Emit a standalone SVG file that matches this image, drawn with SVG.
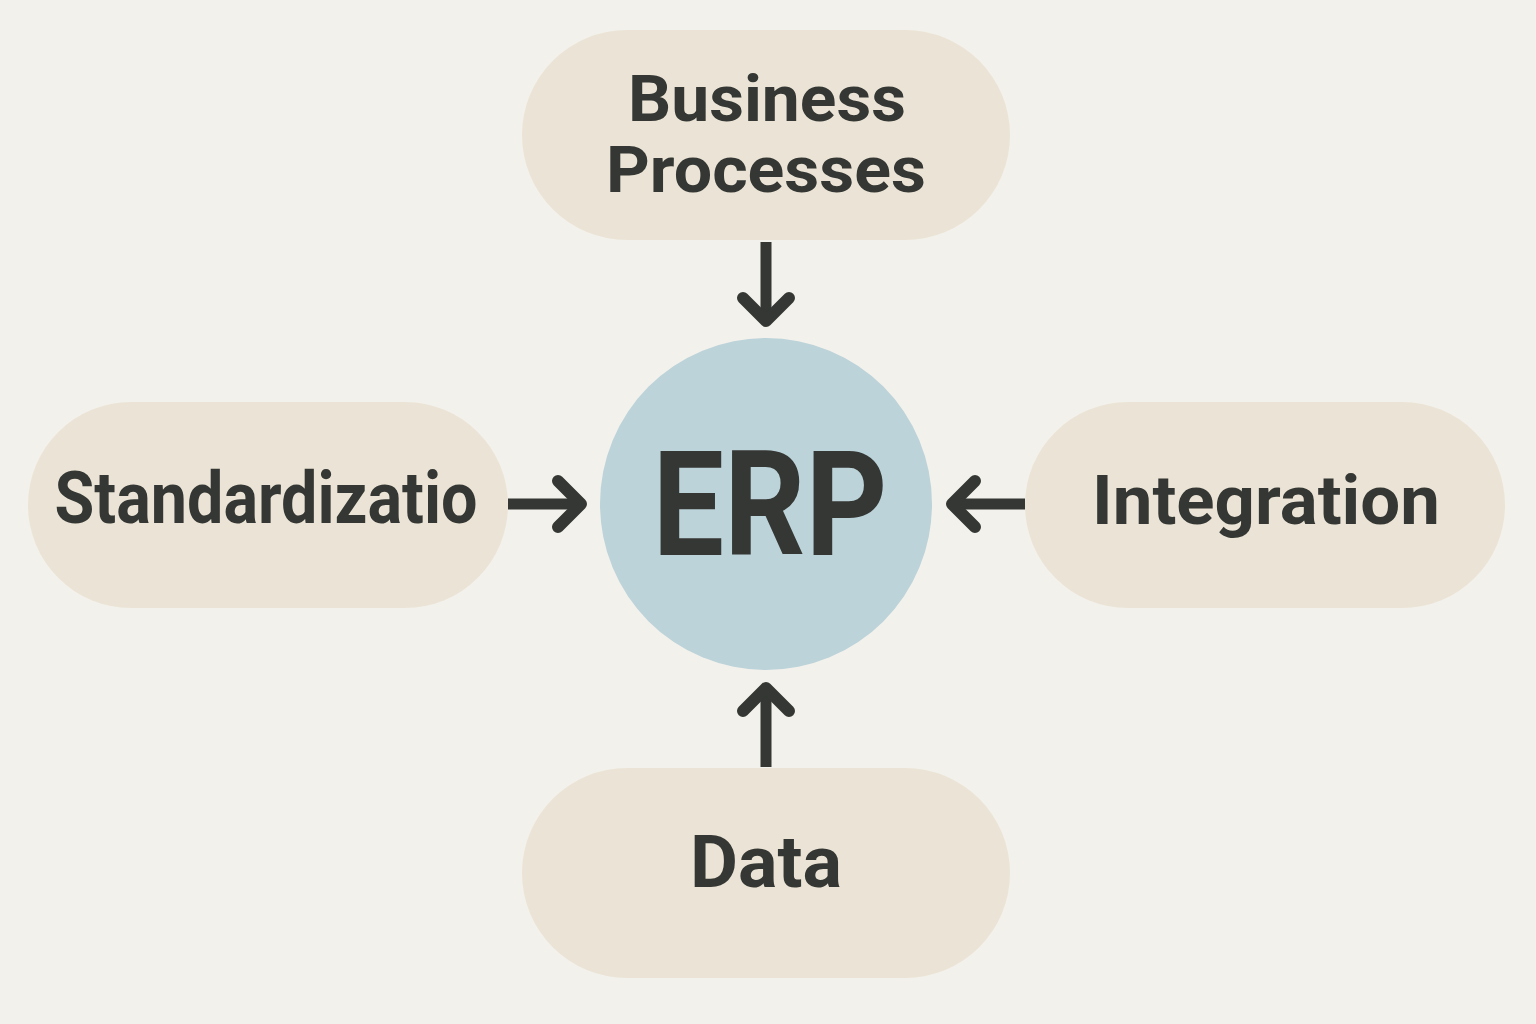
<svg xmlns="http://www.w3.org/2000/svg" width="1536" height="1024" viewBox="0 0 1536 1024">
<style>
.pill{fill:#ebe4d6}
.lbl{font-family:Roboto,"Liberation Sans",Arial,sans-serif;font-weight:bold;fill:#343733;text-anchor:middle}
.shaft{stroke:#343733;stroke-width:11;fill:none;stroke-linecap:butt}
.head{stroke:#343733;stroke-width:12;fill:none;stroke-linecap:round;stroke-linejoin:round}
</style>
<rect width="1536" height="1024" fill="#f3f1ec"/>
<g id="business-processes">
<rect class="pill" x="522" y="30" width="488" height="210" rx="105"/>
<text class="lbl" x="767" y="121" font-size="64" textLength="278" lengthAdjust="spacingAndGlyphs">Business</text>
<text class="lbl" x="766" y="192" font-size="64" textLength="320" lengthAdjust="spacingAndGlyphs">Processes</text>
</g>
<g id="standardization">
<rect class="pill" x="28" y="402" width="480" height="206" rx="103"/>
<text class="lbl" x="266" y="523" font-size="72" textLength="423" lengthAdjust="spacingAndGlyphs">Standardizatio</text>
</g>
<g id="integration">
<rect class="pill" x="1025" y="402" width="480" height="206" rx="103"/>
<text class="lbl" x="1266" y="524" font-size="68" textLength="348" lengthAdjust="spacingAndGlyphs">Integration</text>
</g>
<g id="data">
<rect class="pill" x="522" y="768" width="488" height="210" rx="105"/>
<text class="lbl" x="766" y="887" font-size="72" textLength="152" lengthAdjust="spacingAndGlyphs">Data</text>
</g>
<g id="erp">
<circle cx="766" cy="504" r="166" fill="#bcd3d9"/>
<text class="lbl" x="770" y="555" font-size="147" textLength="235" lengthAdjust="spacingAndGlyphs">ERP</text>
</g>
<g id="connectors">
<line class="shaft" x1="766" y1="242" x2="766" y2="320"/>
<polyline class="head" points="743,298 766,321 789,298"/>
<line class="shaft" x1="508" y1="504" x2="580" y2="504"/>
<polyline class="head" points="558,481 581,504 558,527"/>
<line class="shaft" x1="1025" y1="504" x2="952" y2="504"/>
<polyline class="head" points="975,481 952,504 975,527"/>
<line class="shaft" x1="766" y1="767" x2="766" y2="689"/>
<polyline class="head" points="743,711 766,688 789,711"/>
</g>
</svg>
